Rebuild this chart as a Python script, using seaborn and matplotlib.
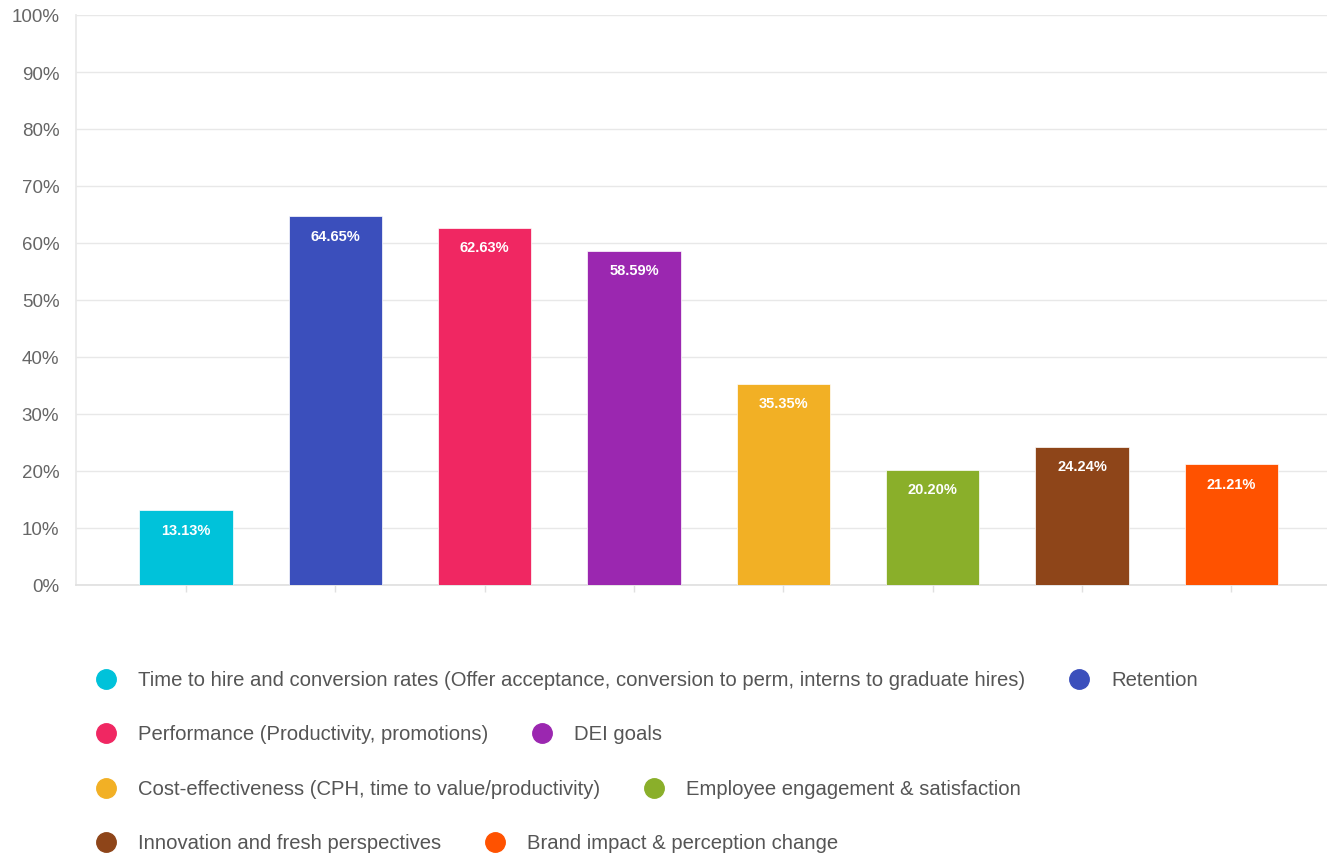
import matplotlib
matplotlib.use("Agg")
import matplotlib.pyplot as plt
import seaborn as sns
import pandas as pd

categories = [
    "Time to hire and conversion rates (Offer acceptance, conversion to perm, interns to graduate hires)",
    "Retention",
    "Performance (Productivity, promotions)",
    "DEI goals",
    "Cost-effectiveness (CPH, time to value/productivity)",
    "Employee engagement & satisfaction",
    "Innovation and fresh perspectives",
    "Brand impact & perception change",
]
values = [13.13, 64.65, 62.63, 58.59, 35.35, 20.20, 24.24, 21.21]
colors = ["#00C2DA", "#3B4FBC", "#F02762", "#9B27B0", "#F2B025", "#8AAF2A", "#8E4519", "#FF5200"]
y_ticks = [0, 10, 20, 30, 40, 50, 60, 70, 80, 90, 100]
legend_rows = [[0, 1], [2, 3], [4, 5], [6, 7]]

sns.set_theme(style="white")
plt.rcParams["font.family"] = ["Liberation Sans", "DejaVu Sans"]

W, H = 1327, 854
fig = plt.figure(figsize=(W / 100, H / 100), dpi=100)
ax = fig.add_axes([76 / W, (H - 586) / H, (W - 76) / W, (586 - 16) / H])

df = pd.DataFrame({"category": categories, "value": values})
sns.barplot(data=df, x="category", y="value", hue="category", palette=colors,
            order=categories, hue_order=categories, dodge=False, legend=False,
            width=0.625, saturation=1, ax=ax, edgecolor="white", linewidth=0.5, zorder=3)

ax.set_ylim(0, 100)
ax.set_xlim(-0.737, 7.64)
ax.set_yticks(y_ticks)
ax.set_yticklabels([f"{t}%" for t in y_ticks], color="#666666", fontsize=13.5)
ax.set_xticks(range(len(categories)))
ax.set_xticklabels([])
ax.tick_params(axis="x", length=5, color="#e0e0e0", width=1, direction="out", bottom=True)
ax.tick_params(axis="y", length=0, pad=12)
ax.set_xlabel("")
ax.set_ylabel("")
ax.yaxis.grid(True, color="#e8e8e8", linewidth=1, zorder=0)
ax.set_axisbelow(True)
for side in ["top", "right"]:
    ax.spines[side].set_visible(False)
ax.spines["left"].set_color("#e8e8e8")
ax.spines["bottom"].set_color("#e0e0e0")

for i, v in enumerate(values):
    ax.annotate(f"{v:.2f}%", xy=(i, v), xytext=(0, -14), textcoords="offset points",
                ha="center", va="center", color="white", fontsize=10.5,
                fontweight="bold", zorder=4)

# legend laid out as flowing rows beneath the plot
fig.canvas.draw()
renderer = fig.canvas.get_renderer()
row_y = [681, 735, 790, 844]
for r, row in enumerate(legend_rows):
    x = 106
    for idx in row:
        fig.add_artist(plt.Line2D([x / W], [1 - (row_y[r] - 1) / H], marker="o", markersize=14,
                                  color=colors[idx], linestyle="none",
                                  transform=fig.transFigure))
        t = fig.text((x + 32) / W, 1 - row_y[r] / H, categories[idx], fontsize=14.6,
                     color="#555555", ha="left", va="center")
        bb = t.get_window_extent(renderer)
        x = bb.x1 + 54

fig.savefig("out.png", dpi=100)
